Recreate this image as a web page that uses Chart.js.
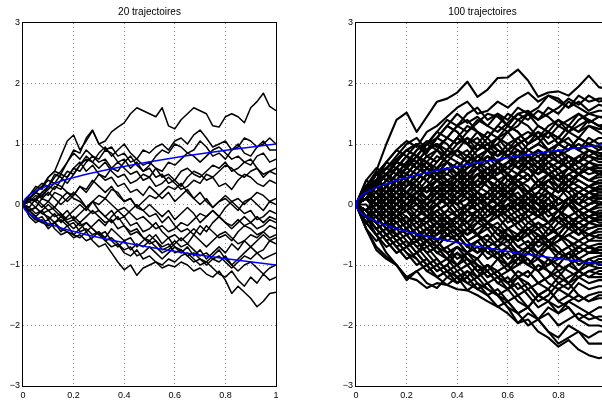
<!DOCTYPE html>
<html><head><meta charset="utf-8">
<script src="https://cdn.jsdelivr.net/npm/chart.js@4/dist/chart.umd.min.js"></script>
<style>
html,body{margin:0;padding:0;background:#fff;overflow:hidden;width:602px;height:401px;position:relative}
canvas{position:absolute;top:0}
</style></head><body>
<canvas id="c1" width="290" height="401" style="left:0px;width:290px;height:401px"></canvas>
<canvas id="c2" width="290" height="401" style="left:330px;width:290px;height:401px"></canvas>
<script>
const titles = ['20 trajectoires', '100 trajectoires'];
const xTicks = [0, 0.2, 0.4, 0.6, 0.8, 1];
const yTicks = [-3, -2, -1, 0, 1, 2, 3];

const tSqrt = [0, .0025, .01, .0225, .04, .09, .16, .25, .36, .49, .64, .81, 1];
const sqrtUpper = [0, .05, .1, .15, .2, .3, .4, .5, .6, .7, .8, .9, 1];
const sqrtLower = [0, -.05, -.1, -.15, -.2, -.3, -.4, -.5, -.6, -.7, -.8, -.9, -1];

const tLeft = [0,.025,.05,.075,.1,.125,.15,.175,.2,.225,.25,.275,.3,.325,.35,.375,.4,.425,.45,.475,.5,.525,.55,.575,.6,.625,.65,.675,.7,.725,.75,.775,.8,.825,.85,.875,.9,.925,.95,.975,1];
const pathsLeft = [
[0,.15,.3,.25,.45,.55,.8,1.05,1.15,.9,1.05,1.22,1.0,1.05,1.2,1.28,1.35,1.5,1.6,1.55,1.5,1.45,1.6,1.3,1.25,1.4,1.5,1.6,1.55,1.5,1.3,1.28,1.45,1.5,1.45,1.35,1.6,1.7,1.84,1.62,1.55],
[0,.1,.2,.12,.3,.45,.55,.7,.9,.85,1.1,1.23,1.0,.9,.95,.8,.85,.7,.75,.9,.85,.95,1.0,.9,1.05,1.1,1.0,1.15,1.23,1.1,.95,1.0,1.05,.9,.95,1.1,1.05,.95,1.0,1.1,1.0],
[0,-.05,.1,.2,.15,.3,.25,.45,.6,.55,.7,.8,.75,.9,.85,.7,.75,.6,.7,.55,.65,.8,.9,.85,1.0,.95,.85,.9,1.05,.95,.8,.85,.75,.9,1.0,.85,.8,.95,1.05,.9,.9],
[0,.1,.05,.2,.3,.25,.4,.55,.5,.65,.8,.7,.6,.7,.55,.45,.5,.35,.4,.5,.45,.6,.55,.7,.65,.75,.85,.8,.7,.8,.9,.95,.85,.75,.8,.7,.65,.8,.85,.7,.75],
[0,.15,.25,.35,.3,.5,.45,.35,.5,.65,.75,.7,.85,.95,.8,.9,1.0,.85,.75,.65,.7,.6,.45,.5,.4,.55,.6,.5,.45,.55,.65,.6,.7,.55,.6,.7,.75,.6,.5,.55,.6],
[0,-.1,-.05,.1,.05,-.05,.1,.2,.15,.3,.2,.35,.5,.45,.6,.55,.7,.8,.65,.55,.6,.45,.5,.35,.4,.3,.45,.55,.5,.4,.45,.3,.35,.25,.4,.5,.45,.35,.3,.4,.35],
[0,.1,.2,.3,.4,.35,.5,.45,.6,.7,.55,.65,.5,.4,.45,.3,.35,.2,.25,.15,.3,.2,.1,.2,.05,.15,.25,.1,0,.1,-.05,.05,.15,.05,.1,0,.1,.2,.15,.05,.1],
[0,-.1,-.2,-.1,-.25,-.15,-.3,-.2,-.1,0,-.1,.05,.15,.1,.25,.2,.05,.1,-.05,.05,.15,.1,.2,.3,.25,.35,.2,.1,.2,.05,-.05,.05,.1,0,-.1,.05,.1,0,-.1,.05,0],
[0,.1,.05,-.05,.05,.2,.15,.05,.15,.3,.25,.4,.3,.2,.3,.15,.05,.1,-.05,-.1,0,-.1,-.2,-.1,-.25,-.15,-.05,-.15,-.3,-.2,-.1,-.2,-.05,.05,-.05,-.15,-.1,-.25,-.2,-.1,-.15],
[0,-.15,-.25,-.2,-.35,-.3,-.2,-.3,-.4,-.3,-.45,-.35,-.25,-.35,-.2,-.1,-.2,-.1,0,-.1,-.2,-.15,-.3,-.2,-.35,-.45,-.4,-.5,-.35,-.45,-.3,-.2,-.3,-.4,-.3,-.2,-.3,-.4,-.35,-.25,-.3],
[0,.05,.15,.1,.2,.1,0,.1,.2,.1,-.05,.05,-.1,-.2,-.1,-.25,-.2,-.35,-.3,-.45,-.4,-.3,-.45,-.55,-.5,-.6,-.5,-.4,-.5,-.35,-.45,-.55,-.5,-.6,-.45,-.35,-.4,-.5,-.45,-.35,-.4],
[0,-.2,-.3,-.25,-.4,-.3,-.45,-.35,-.5,-.4,-.3,-.4,-.5,-.45,-.6,-.7,-.6,-.75,-.65,-.7,-.6,-.7,-.8,-.75,-.65,-.55,-.65,-.5,-.6,-.7,-.6,-.5,-.45,-.55,-.65,-.6,-.5,-.55,-.45,-.55,-.5],
[0,.1,.2,.15,.25,.35,.3,.2,.1,.05,-.05,-.15,-.1,-.2,-.3,-.2,-.35,-.45,-.4,-.55,-.6,-.5,-.65,-.55,-.7,-.8,-.7,-.85,-.75,-.9,-.8,-.7,-.8,-.65,-.75,-.6,-.7,-.6,-.5,-.6,-.55],
[0,-.1,-.2,-.3,-.25,-.4,-.5,-.45,-.55,-.5,-.6,-.55,-.45,-.55,-.4,-.5,-.6,-.55,-.7,-.6,-.5,-.6,-.7,-.65,-.8,-.75,-.85,-.8,-.9,-.95,-.85,-.75,-.9,-1.0,-.9,-.8,-.7,-.8,-.75,-.6,-.65],
[0,.05,-.05,-.15,-.1,-.2,-.15,-.3,-.25,-.35,-.3,-.4,-.5,-.6,-.55,-.65,-.75,-.7,-.85,-.8,-.7,-.8,-.9,-.8,-.7,-.75,-.85,-.95,-.9,-1.0,-.9,-.85,-.95,-1.05,-.95,-.85,-.9,-.8,-.9,-.85,-.8],
[0,-.15,-.25,-.3,-.35,-.3,-.4,-.45,-.5,-.55,-.45,-.6,-.7,-.65,-.8,-.95,-1.08,-1.0,-1.17,-1.05,-1.0,-.95,-1.05,-1.0,-1.03,-.95,-1.0,-1.1,-1.05,-1.15,-1.2,-1.1,-1.25,-1.47,-1.35,-1.45,-1.55,-1.69,-1.6,-1.47,-1.45],
[0,-.1,-.05,-.15,-.2,-.3,-.25,-.35,-.3,-.45,-.4,-.5,-.45,-.6,-.7,-.65,-.8,-.85,-.75,-.9,-.85,-.95,-1.0,-.9,-.95,-.85,-.8,-.9,-1.0,-.95,-1.05,-1.15,-1.2,-1.1,-1.25,-1.35,-1.2,-1.3,-1.15,-1.25,-1.2],
[0,.05,.1,0,-.1,-.05,-.15,-.25,-.2,-.3,-.2,-.1,-.2,-.3,-.25,-.4,-.35,-.5,-.45,-.55,-.65,-.6,-.75,-.7,-.6,-.7,-.65,-.75,-.85,-.8,-.9,-.95,-.85,-1.0,-1.1,-1.0,-.95,-1.05,-1.15,-1.05,-1.0],
[0,.1,.2,.3,.45,.55,.5,.7,.85,.75,.9,.8,.7,.75,.6,.7,.6,.5,.55,.4,.45,.3,.35,.45,.35,.25,.3,.4,.35,.5,.45,.55,.65,.6,.5,.45,.55,.6,.45,.55,.5],
[0,-.05,-.15,-.1,0,-.1,-.2,-.1,-.25,-.15,-.05,.05,0,.1,0,-.1,-.05,-.15,-.25,-.2,-.3,-.4,-.35,-.45,-.4,-.3,-.35,-.25,-.15,-.2,-.1,-.2,-.3,-.35,-.25,-.35,-.3,-.2,-.3,-.2,-.25]
];

const tRight = [0,.04,.08,.12,.16,.2,.24,.28,.32,.36,.4,.44,.48,.52,.56,.6,.64,.68,.72,.76,.8,.84,.88,.92,.96,1];
const pathsRight = [
[0,.3,.55,1.0,1.4,1.52,1.2,1.45,1.7,1.75,1.85,2.03,1.78,1.9,2.09,2.1,2.23,2.05,1.78,1.85,1.87,1.8,1.95,2.13,1.94,1.9],
[0,.2,.4,.7,.9,1.05,.95,1.2,1.3,1.45,1.6,1.7,1.5,1.55,1.7,1.6,1.75,1.85,1.7,1.8,1.75,1.6,1.7,1.55,1.65,1.6],
[0,.1,.35,.5,.7,.65,.9,1.05,.95,1.1,1.0,1.2,1.35,1.5,1.45,1.3,1.5,1.55,1.4,1.5,1.6,1.75,1.65,1.8,1.7,1.75],
[0,.25,.5,.6,.75,.9,1.0,.85,1.1,1.3,1.5,1.35,1.45,1.3,1.2,1.35,1.5,1.4,1.55,1.45,1.3,1.4,1.5,1.35,1.45,1.4],
[0,.2,.1,.3,.5,.7,.6,.8,.7,.9,1.1,1.0,1.2,1.1,1.3,1.2,1.4,1.5,1.3,1.2,1.4,1.3,1.5,1.4,1.3,1.3],
[0,.3,.5,.4,.6,.8,.7,.9,1.0,.8,.9,1.1,1.0,.9,1.1,1.2,1.0,1.1,1.3,1.2,1.1,1.3,1.2,1.4,1.3,1.2],
[0,-.1,.1,.2,.4,.3,.5,.7,.6,.8,.9,.8,1.0,1.2,1.1,1.3,1.2,1.0,1.1,.9,1.0,1.2,1.1,1.3,1.2,1.1],
[0,.2,.4,.3,.5,.4,.6,.5,.7,.9,.8,.7,.9,1.0,.9,.8,1.0,1.1,1.2,1.0,1.1,1.0,.9,1.1,1.0,1.05],
[0,.1,.3,.5,.4,.6,.5,.4,.6,.7,.6,.8,.7,.9,1.0,.8,.9,.7,.8,.9,1.0,.9,1.1,1.0,.9,1.0],
[0,.3,.2,.4,.3,.5,.7,.6,.4,.5,.7,.6,.8,.7,.9,.8,.7,.9,1.0,.9,.8,1.0,.9,.8,.9,.95],
[0,.2,.4,.6,.8,1.0,1.1,.9,1.0,.8,.9,.7,.8,.9,1.1,1.0,.9,.8,.7,.9,.8,.9,1.0,.9,.8,.9],
[0,.1,0,.2,.3,.2,.4,.6,.5,.7,.6,.5,.7,.8,.6,.7,.9,.8,.7,.8,.9,.8,.7,.9,.8,.85],
[0,.4,.6,.5,.7,.9,.8,1.0,1.1,1.3,1.2,1.0,.9,1.1,.9,.8,.7,.9,.8,.6,.7,.8,.7,.9,.8,.8],
[0,-.2,0,.1,0,.2,.3,.2,.4,.3,.5,.4,.6,.5,.7,.6,.8,.7,.9,.8,.7,.6,.8,.7,.8,.75],
[0,.2,.3,.5,.6,.5,.7,.9,1.0,.9,1.1,1.3,1.2,1.0,1.1,.9,1.0,.8,.9,.7,.8,.6,.7,.8,.7,.7],
[0,.1,.2,.1,.3,.2,.1,.3,.4,.3,.5,.4,.6,.7,.5,.6,.7,.8,.6,.7,.5,.6,.7,.6,.65,.65],
[0,.3,.4,.6,.7,.9,1.0,.8,.9,.7,.6,.8,.7,.5,.6,.4,.5,.6,.7,.5,.6,.7,.5,.6,.6,.6],
[0,-.1,.1,0,.2,.4,.3,.5,.4,.3,.5,.7,.6,.8,.7,.6,.5,.7,.6,.8,.7,.6,.5,.6,.5,.6],
[0,.2,.1,.3,.2,.4,.6,.8,.7,.9,1.1,1.0,.8,.7,.9,.8,.6,.7,.5,.6,.4,.5,.6,.5,.55,.55],
[0,.1,.3,.2,.1,.3,.5,.4,.6,.5,.4,.3,.5,.4,.6,.5,.7,.6,.4,.5,.6,.4,.5,.6,.5,.5],
[0,.3,.5,.7,.6,.8,.7,.5,.6,.4,.5,.3,.4,.6,.5,.7,.6,.8,.7,.5,.4,.6,.5,.4,.5,.45],
[0,-.1,-.2,0,.1,0,.2,.1,.3,.2,.4,.5,.3,.4,.2,.3,.5,.4,.6,.5,.3,.4,.5,.4,.45,.45],
[0,.2,.4,.3,.5,.4,.2,.3,.1,.2,.4,.3,.5,.6,.4,.5,.3,.4,.6,.5,.4,.3,.5,.4,.35,.4],
[0,.1,.2,.4,.6,.5,.7,.9,1.1,1.0,.8,.9,.7,.6,.7,.5,.4,.5,.3,.4,.5,.3,.4,.3,.35,.35],
[0,-.2,-.1,-.3,-.2,0,.1,0,.2,.1,.3,.2,.4,.3,.1,.2,.3,.2,.4,.3,.2,.4,.3,.2,.3,.3],
[0,.2,.3,.1,.2,.4,.3,.5,.4,.2,.3,.1,.2,.4,.3,.5,.4,.2,.1,.3,.2,.4,.3,.2,.3,.3],
[0,.4,.3,.5,.7,.6,.8,.6,.5,.3,.4,.2,.3,.5,.4,.2,.3,.1,.2,.4,.3,.1,.2,.3,.25,.25],
[0,.1,-.1,0,-.2,-.1,.1,0,.2,.3,.1,.2,0,.1,.3,.2,.4,.3,.1,.2,0,.1,.2,.3,.2,.2],
[0,.2,0,.1,.3,.5,.4,.6,.5,.7,.6,.4,.5,.3,.2,.4,.3,.1,0,.2,.1,.3,.2,.1,.2,.2],
[0,-.1,.1,.3,.2,0,.1,-.1,0,.2,.1,.3,.5,.4,.2,.3,.1,.2,0,.1,.3,.2,0,.1,.15,.15],
[0,.3,.2,.4,.3,.1,.2,.4,.6,.8,.7,.5,.6,.4,.3,.5,.3,.2,.4,.2,.1,0,.1,.2,.1,.1],
[0,0,-.2,-.1,-.3,-.2,-.4,-.2,-.1,0,-.2,-.1,.1,0,.2,.1,0,.2,.3,.2,0,.1,-.1,0,.1,.1],
[0,.2,.4,.5,.3,.4,.2,.1,.3,.2,0,.1,-.1,0,.2,.1,.3,.2,0,-.1,.1,0,.2,.1,0,.05],
[0,-.3,-.1,-.2,0,.2,.1,.3,.2,.4,.3,.1,.2,0,-.1,.1,0,.2,.1,-.1,0,.1,-.1,0,.05,0],
[0,.1,.3,.2,0,-.1,.1,0,-.2,-.1,.1,.3,.2,.4,.3,.1,.2,0,-.1,.1,-.1,0,-.2,-.1,0,0],
[0,.2,.5,.7,.9,.8,.6,.7,.5,.4,.2,.3,.1,.2,0,.1,-.1,0,.2,.1,-.1,0,-.2,-.1,-.05,-.05],
[0,-.2,-.4,-.3,-.5,-.4,-.2,-.3,-.1,0,-.2,-.1,.1,0,-.2,-.1,.1,0,-.1,-.3,-.2,0,-.1,-.2,-.1,-.1],
[0,.1,0,.2,.1,.3,.4,.2,.3,.1,0,.2,.1,-.1,-.2,0,-.1,.1,0,-.2,-.1,-.3,-.2,-.1,-.15,-.1],
[0,.3,.1,.2,.4,.3,.5,.4,.2,.1,-.1,0,.2,.1,.3,.2,0,-.1,-.2,0,-.1,-.2,-.1,-.3,-.2,-.15],
[0,-.1,.1,0,-.2,-.1,-.3,-.2,0,.1,0,-.2,-.1,-.3,-.2,-.4,-.3,-.1,-.2,0,-.1,-.3,-.2,-.1,-.2,-.2],
[0,.2,.4,.3,.1,.2,0,-.2,-.1,-.3,-.2,0,.1,-.1,0,.2,.1,-.1,-.2,-.1,-.3,-.2,-.4,-.3,-.2,-.2],
[0,-.2,-.1,-.3,-.5,-.4,-.6,-.5,-.3,-.4,-.2,-.3,-.1,0,-.2,-.1,-.3,-.2,-.4,-.3,-.1,-.2,-.3,-.2,-.25,-.25],
[0,.1,.2,0,.1,-.1,-.2,0,.2,.4,.3,.5,.6,.4,.3,.1,0,-.2,-.1,-.3,-.2,-.4,-.3,-.2,-.3,-.3],
[0,-.1,-.3,-.2,0,-.1,.1,0,-.2,-.3,-.5,-.4,-.2,-.3,-.5,-.4,-.6,-.5,-.3,-.4,-.2,-.3,-.4,-.3,-.35,-.3],
[0,.3,.5,.4,.6,.4,.3,.1,.2,0,.1,-.1,-.2,0,-.1,-.3,-.2,-.4,-.3,-.5,-.4,-.3,-.5,-.4,-.35,-.35],
[0,-.2,-.4,-.6,-.5,-.7,-.6,-.4,-.5,-.3,-.4,-.2,-.1,-.3,-.2,-.4,-.3,-.5,-.4,-.6,-.5,-.3,-.4,-.5,-.4,-.4],
[0,.1,-.1,-.2,-.1,-.3,-.2,-.4,-.3,-.1,-.2,0,-.1,-.3,-.4,-.6,-.5,-.7,-.6,-.4,-.5,-.3,-.4,-.5,-.45,-.45],
[0,.2,.1,.3,.2,.4,.3,.1,0,-.2,-.1,-.3,-.2,-.4,-.3,-.5,-.6,-.4,-.5,-.7,-.6,-.5,-.4,-.6,-.5,-.5],
[0,-.3,-.5,-.4,-.2,-.3,-.1,-.2,-.4,-.3,-.5,-.7,-.6,-.8,-.7,-.5,-.6,-.4,-.5,-.7,-.6,-.5,-.6,-.5,-.55,-.55],
[0,.1,.3,.2,.4,.2,.1,-.1,-.3,-.2,-.4,-.3,-.5,-.4,-.6,-.5,-.7,-.8,-.6,-.7,-.5,-.6,-.7,-.6,-.6,-.6],
[0,-.1,-.2,-.4,-.3,-.5,-.7,-.6,-.8,-.9,-.7,-.8,-.6,-.5,-.7,-.6,-.8,-.7,-.5,-.6,-.8,-.7,-.6,-.7,-.65,-.65],
[0,.2,0,-.1,.1,0,-.2,-.1,-.3,-.4,-.2,-.3,-.5,-.6,-.4,-.5,-.7,-.6,-.8,-.7,-.9,-.8,-.7,-.8,-.7,-.7],
[0,-.2,-.3,-.1,-.2,-.4,-.6,-.8,-.7,-.9,-1.0,-.8,-.9,-.7,-.8,-1.0,-.9,-.7,-.8,-.6,-.7,-.9,-.8,-.7,-.75,-.75],
[0,.1,.2,0,-.2,-.3,-.2,-.4,-.3,-.5,-.4,-.6,-.5,-.7,-.9,-.8,-1.0,-.9,-1.1,-1.0,-.8,-.9,-.7,-.8,-.8,-.8],
[0,-.3,-.2,-.4,-.5,-.7,-.6,-.8,-.7,-.5,-.6,-.4,-.5,-.3,-.5,-.6,-.8,-.7,-.9,-1.0,-.9,-.8,-1.0,-.9,-.85,-.85],
[0,-.1,.1,.2,0,-.1,-.3,-.2,-.4,-.6,-.5,-.7,-.8,-.6,-.7,-.9,-.8,-1.0,-1.1,-.9,-1.0,-.8,-.9,-1.0,-.9,-.9],
[0,-.2,-.4,-.3,-.5,-.4,-.6,-.5,-.7,-.8,-1.0,-.9,-1.1,-1.0,-1.2,-1.1,-.9,-1.0,-.8,-.9,-1.1,-1.0,-.9,-1.0,-.95,-.95],
[0,.2,.1,-.1,-.2,-.4,-.3,-.5,-.6,-.4,-.5,-.7,-.6,-.8,-.9,-.7,-.8,-1.0,-.9,-1.1,-1.2,-1.0,-1.1,-.9,-1.0,-1.0],
[0,-.4,-.6,-.5,-.7,-.9,-.8,-1.0,-1.2,-1.1,-1.3,-1.2,-1.0,-1.1,-.9,-1.0,-1.2,-1.1,-1.3,-1.2,-1.0,-1.1,-1.2,-1.1,-1.05,-1.05],
[0,-.1,-.3,-.2,-.4,-.3,-.5,-.7,-.6,-.8,-.7,-.9,-1.1,-1.0,-1.2,-1.3,-1.1,-1.2,-1.0,-1.1,-1.3,-1.2,-1.1,-1.2,-1.1,-1.1],
[0,-.2,-.5,-.8,-1.0,-1.25,-1.1,-1.3,-1.38,-1.2,-1.3,-1.1,-1.2,-1.0,-1.1,-1.3,-1.2,-1.4,-1.3,-1.2,-1.1,-1.3,-1.2,-1.1,-1.15,-1.15],
[0,.1,-.1,-.3,-.2,-.4,-.6,-.5,-.7,-.9,-.8,-1.0,-.9,-1.1,-1.3,-1.2,-1.4,-1.3,-1.5,-1.4,-1.2,-1.3,-1.1,-1.2,-1.2,-1.2],
[0,-.3,-.2,-.4,-.3,-.5,-.4,-.6,-.8,-.7,-.9,-.8,-1.0,-1.2,-1.1,-1.3,-1.5,-1.4,-1.6,-1.5,-1.3,-1.4,-1.2,-1.3,-1.25,-1.25],
[0,-.2,-.1,-.3,-.5,-.4,-.6,-.8,-1.0,-.9,-1.1,-1.0,-1.2,-1.1,-1.3,-1.4,-1.2,-1.3,-1.5,-1.4,-1.6,-1.5,-1.3,-1.4,-1.35,-1.35],
[0,-.4,-.7,-.86,-1.0,-1.2,-1.1,-1.0,-1.2,-1.33,-1.2,-1.42,-1.3,-1.4,-1.5,-1.4,-1.6,-1.7,-1.5,-1.6,-1.4,-1.5,-1.6,-1.5,-1.45,-1.45],
[0,-.1,-.3,-.5,-.4,-.6,-.8,-.7,-.9,-1.1,-1.0,-1.2,-1.4,-1.5,-1.69,-1.6,-1.8,-1.7,-1.5,-1.6,-1.7,-1.6,-1.5,-1.6,-1.55,-1.55],
[0,-.2,-.3,-.5,-.7,-.6,-.8,-1.0,-.9,-1.1,-1.2,-1.3,-1.2,-1.4,-1.5,-1.7,-1.96,-1.8,-1.9,-1.7,-1.8,-1.6,-1.7,-1.8,-1.7,-1.7],
[0,-.3,-.5,-.4,-.6,-.8,-.9,-1.1,-1.0,-1.2,-1.1,-1.3,-1.4,-1.3,-1.5,-1.6,-1.5,-1.7,-1.9,-1.8,-2.0,-1.9,-1.8,-1.9,-1.85,-1.85],
[0,-.1,-.2,-.4,-.6,-.5,-.7,-.9,-1.1,-1.0,-1.2,-1.1,-1.3,-1.5,-1.4,-1.6,-1.8,-1.7,-1.9,-2.1,-2.2,-2.0,-2.1,-2.2,-2.1,-2.1],
[0,-.4,-.75,-.9,-1.0,-1.2,-1.25,-1.38,-1.3,-1.33,-1.4,-1.42,-1.5,-1.6,-1.69,-1.8,-1.96,-1.9,-2.1,-2.2,-2.35,-2.24,-2.4,-2.49,-2.54,-2.5],
[0,-.2,-.4,-.6,-.8,-.7,-.9,-1.1,-1.2,-1.1,-1.3,-1.2,-1.4,-1.3,-1.5,-1.7,-1.8,-2.0,-1.9,-2.1,-2.3,-2.2,-2.1,-2.3,-2.3,-2.3],
[0,.2,.4,.6,.5,.7,.9,1.0,1.2,1.1,1.3,1.2,1.4,1.3,1.5,1.4,1.6,1.5,1.4,1.6,1.5,1.7,1.6,1.5,1.55,1.55],
[0,.1,.3,.5,.7,.6,.8,.7,.9,.8,1.0,1.1,.9,1.0,.8,.9,1.1,1.2,1.1,1.3,1.4,1.2,1.3,1.4,1.3,1.35],
[0,.3,.4,.2,.3,.5,.4,.6,.8,.7,.5,.6,.8,.9,.7,.8,.6,.7,.9,.8,1.0,.9,1.1,1.0,1.1,1.1],
[0,-.1,.1,.3,.5,.4,.3,.5,.4,.6,.5,.7,.6,.4,.5,.7,.8,.6,.5,.7,.6,.8,.7,.8,.75,.75],
[0,.2,.1,0,.2,.1,.3,.2,.4,.3,.2,.4,.3,.5,.4,.3,.5,.4,.6,.5,.4,.6,.5,.7,.6,.6],
[0,.1,.2,.4,.3,.1,.2,0,.1,.3,.2,.4,.2,.1,.3,.2,.4,.5,.3,.4,.3,.5,.4,.3,.4,.4],
[0,-.2,-.1,.1,0,.2,.1,-.1,0,.1,-.1,0,.2,.1,0,.2,.3,.1,.2,.4,.3,.2,.3,.2,.25,.25],
[0,.1,0,-.1,.1,.2,0,.1,.3,.4,.2,.3,.1,0,.1,-.1,0,.1,-.1,0,.1,0,.2,.1,.1,.1],
[0,-.1,-.3,-.2,-.1,.1,0,-.1,.1,0,.2,.1,0,-.2,-.1,0,-.2,-.1,.1,0,-.1,.1,0,-.1,0,0],
[0,.2,.3,.1,0,-.1,0,-.2,-.1,-.3,-.2,-.1,-.3,-.2,0,-.1,.1,0,-.2,-.1,-.3,-.2,-.1,-.2,-.15,-.15],
[0,-.1,0,-.2,-.3,-.2,-.4,-.3,-.2,-.4,-.3,-.5,-.4,-.3,-.1,-.2,-.3,-.2,-.4,-.3,-.2,-.4,-.3,-.4,-.35,-.35],
[0,.1,-.1,-.3,-.4,-.3,-.5,-.4,-.6,-.5,-.4,-.6,-.5,-.7,-.6,-.4,-.5,-.3,-.4,-.6,-.5,-.7,-.6,-.5,-.55,-.55],
[0,-.2,-.3,-.5,-.4,-.3,-.5,-.6,-.8,-.7,-.6,-.8,-.7,-.9,-.8,-.7,-.9,-.8,-.6,-.7,-.8,-.7,-.9,-.8,-.75,-.75],
[0,.2,.4,.3,.5,.6,.8,1.0,.9,1.1,1.3,1.4,1.2,1.1,1.3,1.5,1.4,1.3,1.1,1.2,1.0,1.1,.9,1.0,.95,.95],
[0,.3,.5,.4,.6,.8,1.0,.9,1.1,1.3,1.2,1.0,1.1,.9,1.0,1.2,1.3,1.5,1.6,1.8,1.7,1.6,1.8,1.7,1.75,1.75],
[0,-.3,-.1,.1,.3,.2,.4,.6,.5,.7,.9,.8,1.0,.9,.7,.8,.6,.5,.3,.4,.2,.3,.1,0,.1,.1],
[0,.2,.4,.5,.3,.2,0,-.2,-.3,-.5,-.4,-.6,-.8,-.7,-.9,-1.1,-1.0,-.8,-.9,-.7,-.6,-.4,-.5,-.3,-.35,-.35],
[0,-.2,-.4,-.6,-.8,-.7,-.5,-.6,-.4,-.2,-.3,-.1,0,.2,.1,.3,.4,.2,.3,.5,.6,.4,.5,.6,.55,.55],
[0,.1,.3,.5,.4,.6,.8,.7,.5,.4,.2,.3,.1,-.1,0,-.2,-.4,-.5,-.7,-.6,-.8,-.9,-1.1,-1.0,-1.05,-1.05],
[0,-.1,-.3,-.5,-.7,-.9,-.8,-.6,-.7,-.5,-.6,-.4,-.5,-.3,-.4,-.2,-.1,-.3,-.2,0,-.1,.1,0,.2,.15,.15],
[0,.2,0,.1,-.1,-.3,-.5,-.4,-.6,-.8,-.7,-.9,-1.0,-1.2,-1.1,-1.0,-.8,-.9,-1.1,-1.3,-1.4,-1.3,-1.5,-1.6,-1.5,-1.5],
[0,-.2,-.1,-.3,-.2,0,-.1,.1,.3,.2,.4,.6,.7,.9,.8,1.0,1.1,.9,1.0,1.2,1.1,1.3,1.2,1.3,1.25,1.25],
[0,.1,.2,.1,-.1,-.2,-.4,-.3,-.5,-.4,-.6,-.8,-.9,-.7,-.8,-1.0,-1.2,-1.1,-1.3,-1.4,-1.6,-1.7,-1.9,-1.8,-1.9,-1.95],
[0,.2,.3,.5,.7,.9,.8,1.0,1.2,1.4,1.3,1.5,1.6,1.4,1.5,1.3,1.2,1.0,1.1,.9,.7,.8,.6,.7,.65,.65],
[0,-.2,-.4,-.3,-.1,0,.1,-.1,0,-.2,-.4,-.5,-.3,-.4,-.6,-.7,-.5,-.4,-.6,-.5,-.3,-.4,-.2,-.3,-.25,-.25],
[0,.1,.3,.2,.4,.3,.5,.4,.2,.3,.5,.4,.6,.8,.7,.9,.8,1.0,1.2,1.1,1.3,1.2,1.4,1.5,1.45,1.45],
[0,-.1,-.2,-.1,-.3,-.5,-.4,-.6,-.5,-.3,-.2,-.4,-.3,-.1,-.2,0,.1,0,-.2,-.3,-.5,-.6,-.8,-.7,-.8,-.85],
[0,.3,.2,0,-.1,0,.2,.3,.5,.6,.4,.5,.3,.2,.4,.3,.5,.7,.6,.8,.9,.7,.8,.9,.85,.85],
[0,-.3,-.5,-.7,-.6,-.8,-1.0,-.9,-1.1,-1.0,-.8,-.9,-1.1,-1.3,-1.2,-1.4,-1.3,-1.5,-1.7,-1.6,-1.8,-1.7,-1.9,-2.0,-2.0,-2.05]
];

const FONT = '"Liberation Sans", Arial, Helvetica, sans-serif';

const boxTitle = {
  id: 'boxTitle',
  afterDraw(chart, args, opts) {
    const {ctx, chartArea: a} = chart;
    ctx.save();
    ctx.strokeStyle = '#000';
    ctx.lineWidth = 1;
    ctx.strokeRect(Math.round(a.left) - 0.5, Math.round(a.top) - 0.5, Math.round(a.right - a.left) + 1, Math.round(a.bottom - a.top) + 1);
    ctx.fillStyle = '#000';
    ctx.font = '10px ' + FONT;
    ctx.textAlign = 'center';
    ctx.textBaseline = 'middle';
    ctx.fillText(opts.text, (a.left + a.right) / 2, 12);
    ctx.restore();
  }
};

function fmtY(v) { return v < 0 ? '\u2212' + (-v) : String(v); }

function makeChart(id, title, t, paths, yWidth, padRight, lw) {
  const datasets = [];
  datasets.push({data: tSqrt.map((x, i) => ({x, y: sqrtUpper[i]})), borderColor: '#0000ff', borderWidth: 1.5});
  datasets.push({data: tSqrt.map((x, i) => ({x, y: sqrtLower[i]})), borderColor: '#0000ff', borderWidth: 1.5});
  paths.forEach(p => datasets.push({data: t.map((x, i) => ({x, y: p[i]})), borderColor: '#000', borderWidth: lw}));
  return new Chart(document.getElementById(id), {
    type: 'line',
    data: {datasets},
    options: {
      responsive: false, animation: false, devicePixelRatio: 1, events: [],
      layout: {padding: {left: 0, right: padRight, top: 23, bottom: 0}},
      elements: {point: {radius: 0}, line: {tension: 0, fill: false, borderJoinStyle: 'round'}},
      plugins: {legend: {display: false}, tooltip: {enabled: false}, title: {display: false}, boxTitle: {text: title}},
      scales: {
        x: {
          type: 'linear', min: 0, max: 1,
          afterBuildTicks: s => { s.ticks = xTicks.map(v => ({value: v})); },
          afterFit: s => { s.height = 15; },
          ticks: {padding: 4, maxRotation: 0, autoSkip: false, color: '#000', font: {family: FONT, size: 9}, callback: v => String(v)},
          grid: {drawTicks: false, lineWidth: 1, color: c => (c.tick && (c.tick.value === 0 || c.tick.value === 1)) ? 'rgba(0,0,0,0)' : '#8c8c8c'},
          border: {display: false, dash: [1, 3]}
        },
        y: {
          type: 'linear', min: -3, max: 3,
          afterBuildTicks: s => { s.ticks = yTicks.map(v => ({value: v})); },
          afterFit: s => { s.width = yWidth; },
          ticks: {padding: 3, autoSkip: false, color: '#000', font: {family: FONT, size: 9}, callback: v => fmtY(v)},
          grid: {drawTicks: false, lineWidth: 1, color: c => (c.tick && Math.abs(c.tick.value) === 3) ? 'rgba(0,0,0,0)' : '#8c8c8c'},
          border: {display: false, dash: [1, 3]}
        }
      }
    },
    plugins: [boxTitle]
  });
}

makeChart('c1', titles[0], tLeft, pathsLeft, 23, 14, 1.5);
makeChart('c2', titles[1], tRight, pathsRight, 26, 11, 2.1);
</script>
</body></html>
